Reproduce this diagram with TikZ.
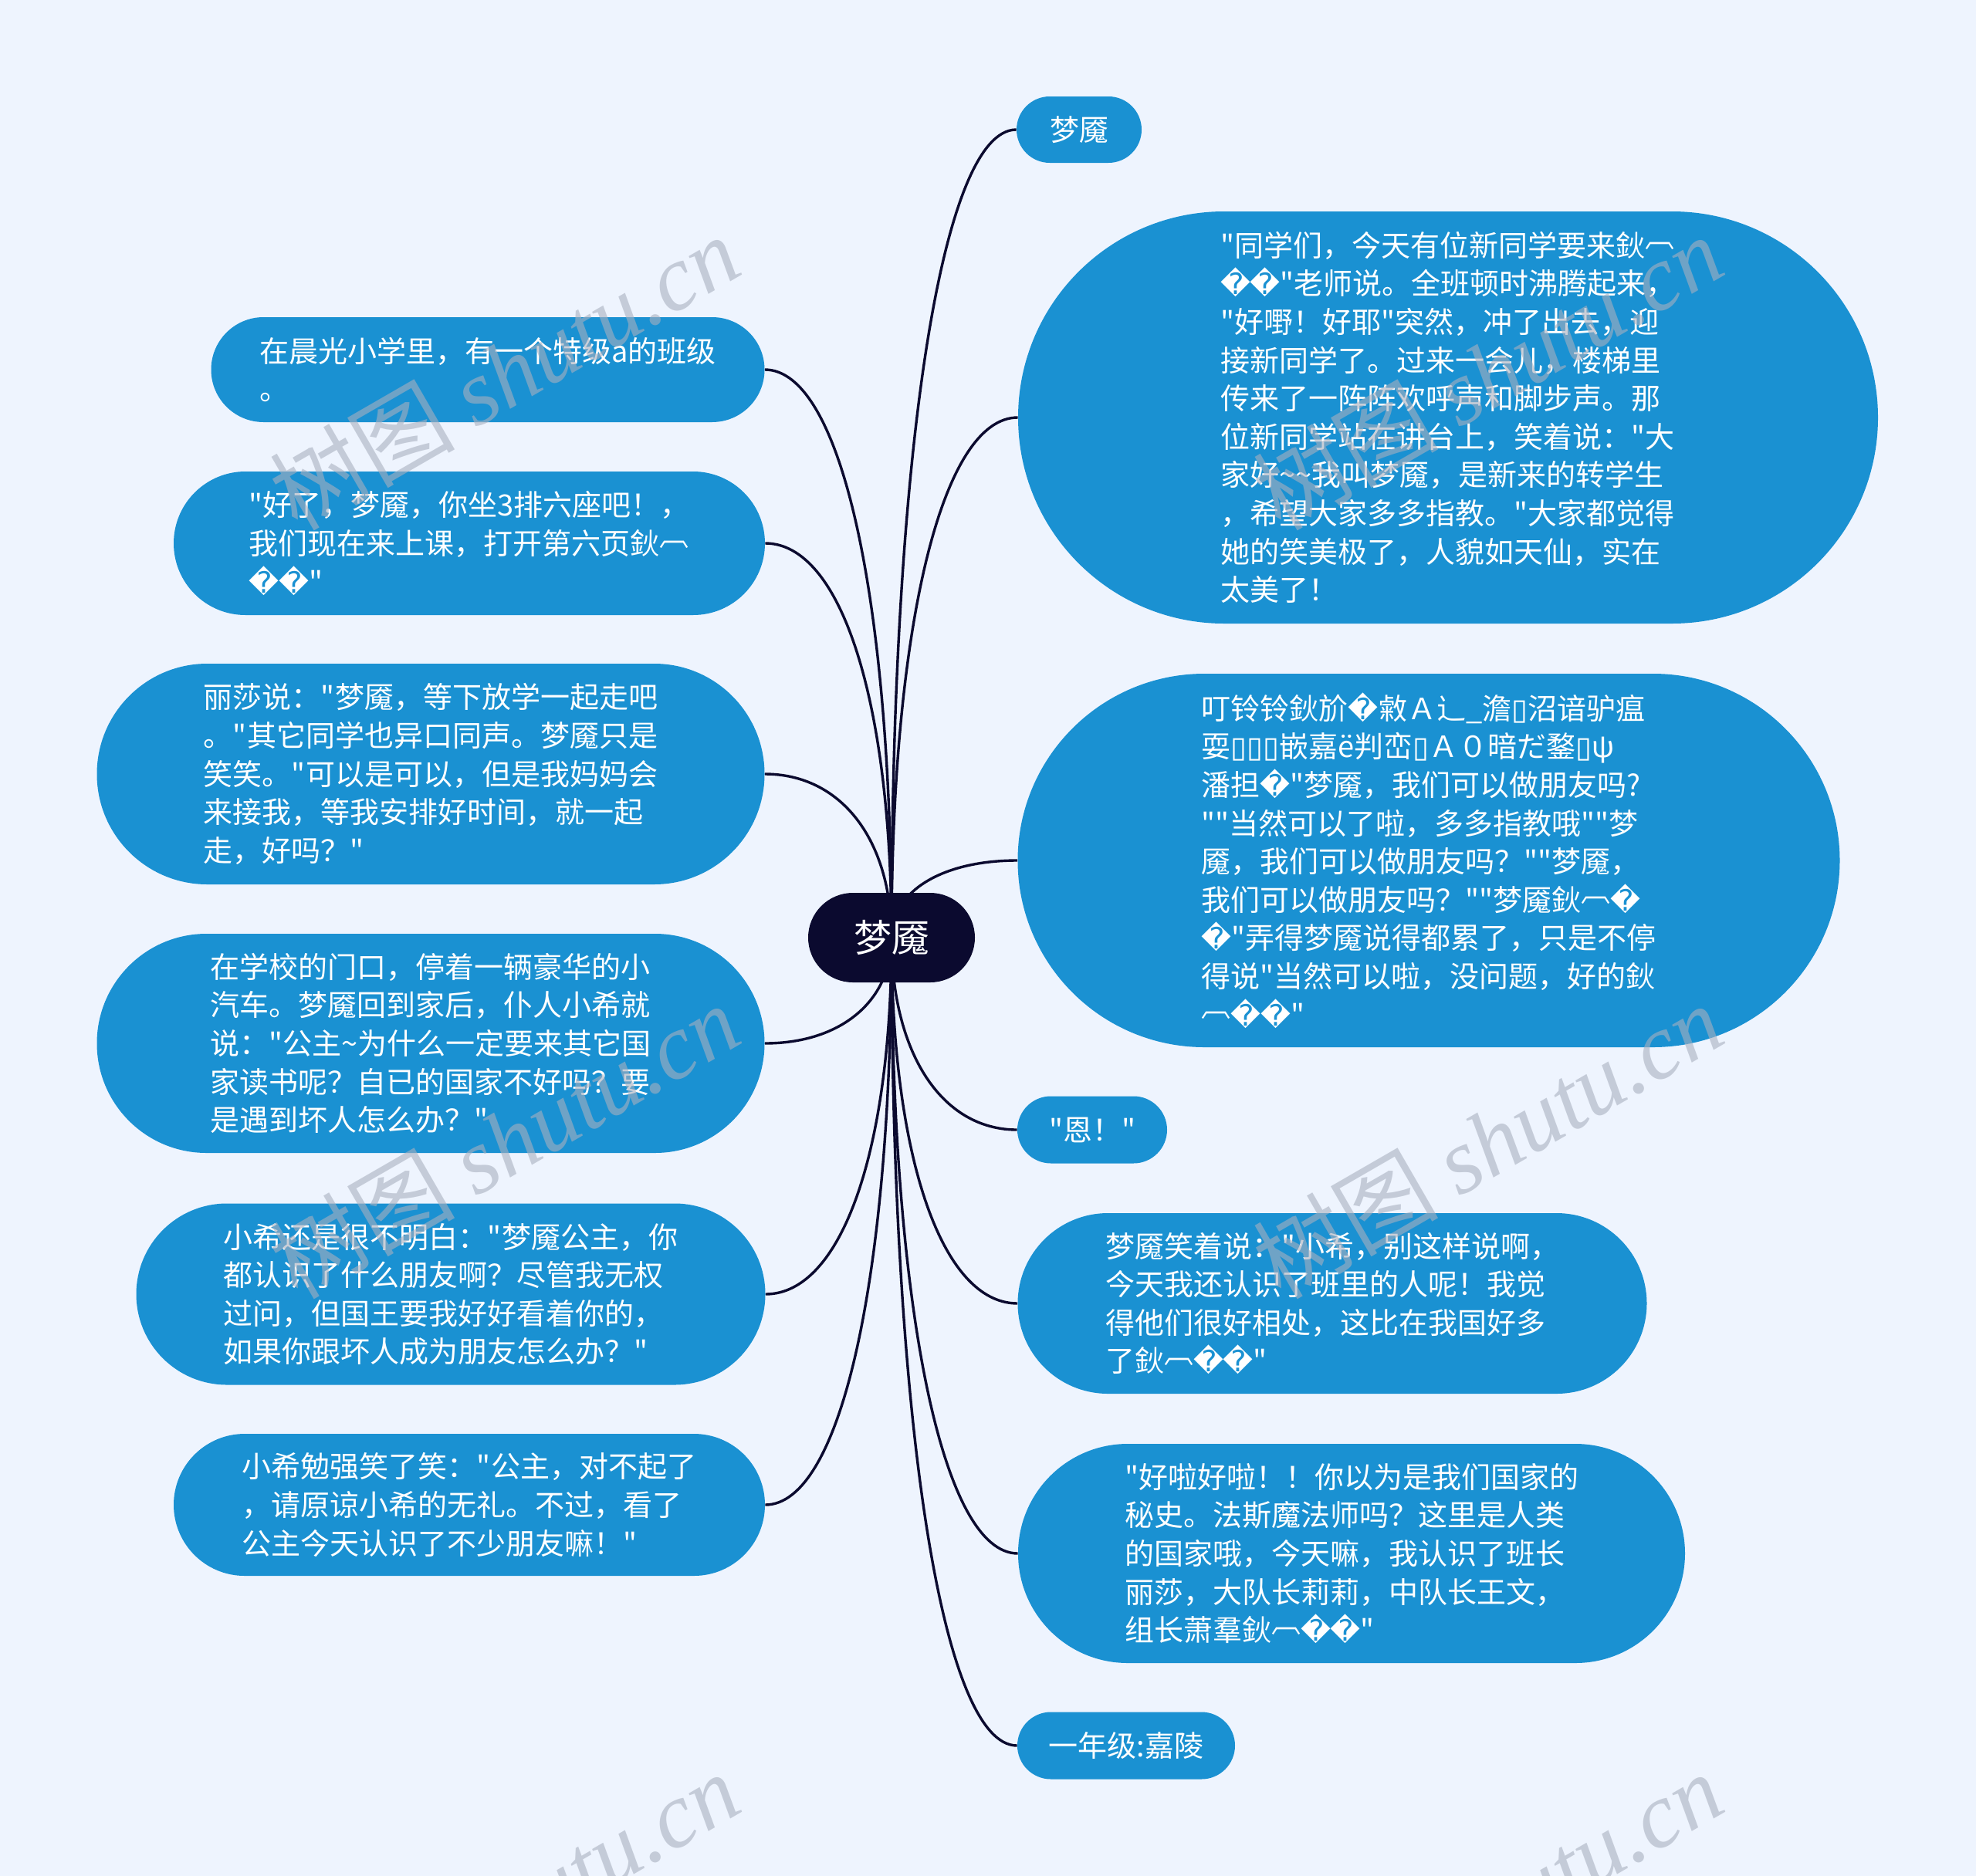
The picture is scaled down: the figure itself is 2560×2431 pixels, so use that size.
\documentclass[tikz,border=0pt]{standalone}
\usepackage{fontspec}
\newfontfamily\cjk{Noto Sans CJK SC}
\newfontfamily\dejavu{DejaVu Sans}
\newfontfamily\wmserif{Liberation Serif}
\usetikzlibrary{shapes.misc,calc,backgrounds}
\definecolor{pagebg}{HTML}{EEF4FE}
\definecolor{topicblue}{HTML}{1A91D2}
\definecolor{hubnavy}{HTML}{0B0A2F}
\definecolor{markgray}{HTML}{A9B0BF}
\newcommand{\rc}{{\dejavu\char"FFFD}}
\newcommand{\tofu}{{\dejavu\char"25AF}}
\newcommand{\tld}{\char`\~}
\newcommand{\capglyph}{\raisebox{0.3em}{︹}}
\tikzset{
  topic/.style 2 args={rounded rectangle,fill=topicblue,text=white,align=left,inner sep=0pt,
    minimum width=#1*0.5pt,minimum height=#2*0.5pt,font=\cjk\fontsize{19}{24.8}\selectfont},
  hub/.style={rounded rectangle,fill=hubnavy,text=white,inner sep=0pt,
    minimum width=108pt,minimum height=58pt,font=\cjk\fontsize{24.5}{30}\selectfont},
  branch/.style={line width=1.7pt,draw=hubnavy},
  wmark/.style={rotate=30,text=markgray,opacity=0.6,inner sep=0pt,font=\cjk\fontsize{60}{60}\selectfont}
}

\begin{document}
\begin{tikzpicture}[x=0.5pt,y=-0.5pt]
\useasboundingbox (0,0) rectangle (2560,2431);
\node[hub] (hub) at (1155,1215) {梦魇};
\node[topic={162}{86}] (r1) at (1398,168) {梦魇};
\node[topic={1114}{534}] (r2) at (1876,541) {"同学们，今天有位新同学要来鈥\capglyph\\
\rc\rc"老师说。全班顿时沸腾起来，\\
"好嘢！好耶"突然，冲了出去，迎\\
接新同学了。过来一会儿，楼梯里\\
传来了一阵阵欢呼声和脚步声。那\\
位新同学站在讲台上，笑着说："大\\
家好\tld\tld{}我叫梦魇，是新来的转学生\\
，希望大家多多指教。"大家都觉得\\
她的笑美极了，人貌如天仙，实在\\
太美了！};
\node[topic={1065}{484}] (r3) at (1851,1115) {叮铃铃鈥斺\rc{}敹Ａ辶\_澹\tofu{}沼谙驴瘟\\
耍\tofu\tofu\tofu{}嵌嘉ё判峦\tofu{}Ａ０暗だ鍪\tofu{}ψ\\
潘担\rc"梦魇，我们可以做朋友吗?\\
""当然可以了啦，多多指教哦""梦\\
魇，我们可以做朋友吗？""梦魇，\\
我们可以做朋友吗？""梦魇鈥\capglyph\rc\\
\rc"弄得梦魇说得都累了，只是不停\\
得说"当然可以啦，没问题，好的鈥\\
\capglyph\rc\rc"};
\node[topic={194}{87}] (r4) at (1415,1464) {"恩！"};
\node[topic={815}{234}] (r5) at (1726,1689) {梦魇笑着说："小希，别这样说啊，\\
今天我还认识了班里的人呢！我觉\\
得他们很好相处，这比在我国好多\\
了鈥\capglyph\rc\rc"};
\node[topic={864}{284}] (r6) at (1751,2013) {"好啦好啦！！你以为是我们国家的\\
秘史。法斯魔法师吗？这里是人类\\
的国家哦，今天嘛，我认识了班长\\
丽莎，大队长莉莉，中队长王文，\\
组长萧羣鈥\capglyph\rc\rc"};
\node[topic={282}{87}] (r7) at (1459,2262) {一年级:嘉陵};
\node[topic={717}{136}] (l1) at (632,479) {在晨光小学里，有一个特级a的班级\\
。};
\node[topic={766}{186}] (l2) at (608,704) {"好了，梦魇，你坐3排六座吧！，\\
我们现在来上课，打开第六页鈥\capglyph\\
\rc\rc"};
\node[topic={865}{286}] (l3) at (558,1003) {丽莎说："梦魇，等下放学一起走吧\\
。"其它同学也异口同声。梦魇只是\\
笑笑。"可以是可以，但是我妈妈会\\
来接我，等我安排好时间，就一起\\
走，好吗？"};
\node[topic={865}{284}] (l4) at (558,1352) {在学校的门口，停着一辆豪华的小\\
汽车。梦魇回到家后，仆人小希就\\
说："公主\tld{}为什么一定要来其它国\\
家读书呢？自已的国家不好吗？要\\
是遇到坏人怎么办？"};
\node[topic={815}{235}] (l5) at (584,1677) {小希还是很不明白："梦魇公主，你\\
都认识了什么朋友啊？尽管我无权\\
过问，但国王要我好好看着你的，\\
如果你跟坏人成为朋友怎么办？"};
\node[topic={766}{184}] (l6) at (608,1950) {小希勉强笑了笑："公主，对不起了\\
，请原谅小希的无礼。不过，看了\\
公主今天认识了不少朋友嘛！"};
\begin{scope}[on background layer]
\fill[pagebg] (0,0) rectangle (2560,2431);
\foreach \t in {r1.west,r2.west,r3.west,r4.west,r5.west,r6.west,r7.west,
  l1.east,l2.east,l3.east,l4.east,l5.east,l6.east}
  \draw[branch] (hub.center) .. controls ($(hub.center)!0.6!(hub.center|-\t)$)
    and ($(\t)!0.6!(hub.center|-\t)$) .. (\t);
\end{scope}
\foreach \wx/\wy [count=\k] in {653/482,1927/482,653/1478,1927/1478,653/2474,1927/2474}
  \node[wmark] (wm\k) at (\wx,\wy) {树图 {\wmserif\itshape shutu.cn}};
\end{tikzpicture}
\end{document}
